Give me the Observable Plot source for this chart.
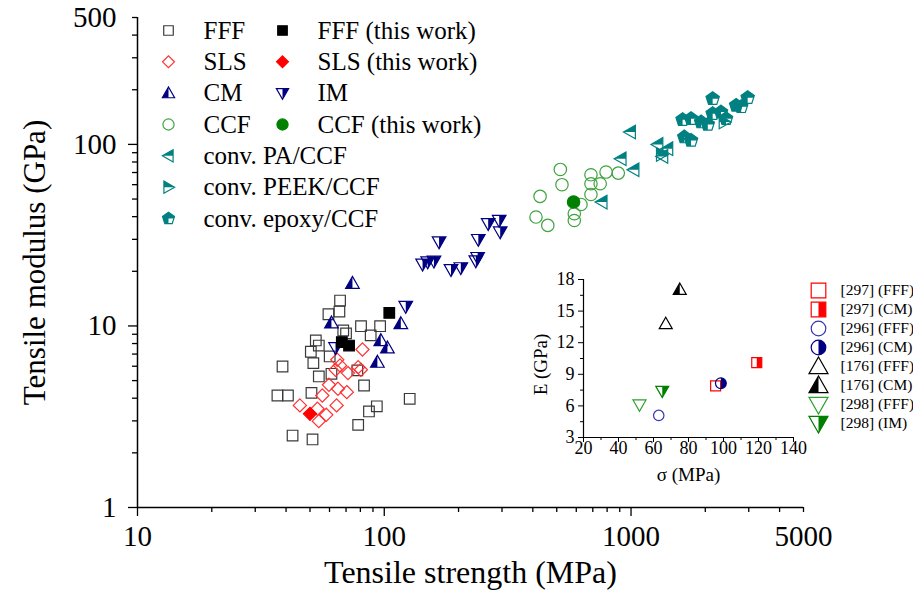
<!DOCTYPE html>
<html><head><meta charset="utf-8">
<script src="https://cdn.jsdelivr.net/npm/d3@7"></script>
<script src="https://cdn.jsdelivr.net/npm/@observablehq/plot@0.6"></script>
<style>
html,body{margin:0;padding:0;background:#fff;}
#wrap{position:relative;width:913px;height:606px;overflow:hidden;font-family:"Liberation Serif","Times New Roman",serif;}
#wrap svg{position:absolute;overflow:visible;background:transparent !important;max-width:none !important;font-family:"Liberation Serif","Times New Roman",serif !important;}
#wrap svg text{font-family:"Liberation Serif","Times New Roman",serif !important;}
</style></head><body><div id="wrap"></div>
<script>
// ---------- DATA (tensile strength MPa, tensile modulus GPa) ----------
const fff = [[66.2,13.8],[59.4,11.6],[65.8,12.0],[68.2,9.44],[70,9.1],[80.5,9.97],[96.2,9.97],[88.1,8.87],[52.8,8.32],[54.3,7.8],[50.4,7.21],[51.6,6.24],[60.1,6.79],[38.7,5.98],[54.3,5.27],[61.1,5.45],[77.8,5.69],[82.8,4.70],[36.9,4.14],[40.7,4.14],[50.7,4.28],[126.8,3.97],[93.3,3.61],[86.7,3.38],[78.4,2.85],[42.5,2.49],[51.2,2.37]];
const fffThisWork = [[104.8,11.8],[67.3,8.15],[72.0,7.8]];
const sls = [[81.6,7.42],[64.5,6.51],[66.2,6.06],[63.5,5.74],[71.3,5.50],[78.4,5.93],[80.4,5.74],[59.7,4.74],[64.9,4.51],[70.5,4.32],[56.1,4.14],[45.5,3.65],[53.6,3.50],[64.1,3.65],[58.2,3.24],[54.3,2.99]];
const slsThisWork = [[50.0,3.28]];
const cm = [[74.3,17.2],[61.1,10.4],[116.7,10.3],[96.8,8.32],[103,7.58],[93.8,6.32]];
const im = [[122.2,12.8],[63.5,7.58],[143,21.9],[150,22.5],[159,22.7],[166.8,29.0],[186.4,20.4],[204.3,20.9],[235,22.8],[239,23.8],[240.5,29.9],[263.8,36.6],[292.2,38.1],[295,32.9]];
const ccf = [[428,51.7],[412,39.8],[460,35.8],[517,72.8],[525,60],[688,68],[688,60.7],[750,60.7],[792,70.4],[888,69.5],[688,53],[627,46.7],[589,41.5],[589,38.1]];
const ccfThisWork = [[585,48.2]];
const convPA = [[993,117],[910,83.4],[1026,72.5],[762,48.1],[1283,100],[1407,94.7],[1343,85.9]];
const convPEEK = [[2388,133],[1330,88]];
const convEpoxy = [[2142,178.6],[2970,180.8],[2667,164],[2795,161],[1618,136.8],[1751,138.6],[1923,132.7],[2047,128.9],[2142,147.6],[2316,150.6],[1644,109.7],[1751,105.2],[2427,138.6]];

const xMajorTicks = [10,100,1000];
const xMinorTicks = [20,30,40,50,60,70,80,90,200,300,400,500,600,700,800,900,2000,3000,4000,5000];
const xTickLabels = [10,100,1000,5000];
const yMajorTicks = [1,10,100];
const yMinorTicks = [2,3,4,5,6,7,8,9,20,30,40,50,60,70,80,90,200,300,400,500];
const yTickLabels = [1,10,100,500];
const xTitle = "Tensile strength (MPa)";
const yTitle = "Tensile modulus (GPa)";

const legendLabels = [["FFF","FFF (this work)"],["SLS","SLS (this work)"],["CM","IM"],["CCF","CCF (this work)"],["conv. PA/CCF"],["conv. PEEK/CCF"],["conv. epoxy/CCF"]];
const legendKeys = [["FFF","FFFw"],["SLS","SLSw"],["CM","IM"],["CCF","CCFw"],["PA"],["PEEK"],["EPOXY"]];

// inset
const insetRefs = ["[297] (FFF)","[297] (CM)","[296] (FFF)","[296] (CM)","[176] (FFF)","[176] (CM)","[298] (FFF)","[298] (IM)"];
const insetStrength = [95.5,119,63,98.5,67,75,52,65];
const insetModulus = [7.9,10.1,5.1,8.15,13.8,17.05,6.1,7.4];
const insetXTicks = [20,40,60,80,100,120,140];
const insetXMinor = [30,50,70,90,110,130];
const insetYTicks = [3,6,9,12,15,18];
const insetYMinor = [4.5,7.5,10.5,13.5,16.5];
const insetXTitle = "σ (MPa)";
const insetYTitle = "E (GPa)";

// ---------- SYMBOLS ----------
function shape(fn){return {draw(ctx,size){const r=Math.sqrt(size/Math.PI);const p=fn(r);ctx.moveTo(p[0][0],p[0][1]);for(let i=1;i<p.length;i++)ctx.lineTo(p[i][0],p[i][1]);ctx.closePath();}};}
const SY = {
  square: shape(r=>[[-r,-r],[r,-r],[r,r],[-r,r]]),
  squareR: shape(r=>[[0,-r],[r,-r],[r,r],[0,r]]),
  diamond: shape(r=>[[0,-r],[r,0],[0,r],[-r,0]]),
  triUp: shape(r=>[[0,-r],[r,0.75*r],[-r,0.75*r]]),
  triUpL: shape(r=>[[0,-r],[0,0.75*r],[-r,0.75*r]]),
  triDown: shape(r=>[[-r,-0.75*r],[r,-0.75*r],[0,r]]),
  triDownR: shape(r=>[[0,-0.75*r],[r,-0.75*r],[0,r]]),
  triLeft: shape(r=>[[-r,0],[0.75*r,-r],[0.75*r,r]]),
  triLeftT: shape(r=>[[-r,0],[0.75*r,-r],[0.75*r,0]]),
  triRight: shape(r=>[[r,0],[-0.75*r,-r],[-0.75*r,r]]),
  triRightT: shape(r=>[[r,0],[-0.75*r,-r],[-0.75*r,0]]),
  pent: shape(r=>[0,1,2,3,4].map(k=>[r*Math.cos(-Math.PI/2+k*2*Math.PI/5), r*Math.sin(-Math.PI/2+k*2*Math.PI/5)])),
  pentP: shape(r=>[[0,-r],[0.951*r,-0.309*r],[0.851*r,0],[0,0],[0,0.809*r],[-0.588*r,0.809*r],[-0.951*r,-0.309*r]]),
  circle: {draw(ctx,size){const r=Math.sqrt(size/Math.PI);ctx.moveTo(r,0);ctx.arc(0,0,r,0,2*Math.PI);ctx.closePath();}},
  circleR: {draw(ctx,size){const r=Math.sqrt(size/Math.PI);ctx.moveTo(0,-r);ctx.arc(0,0,r,-Math.PI/2,Math.PI/2);ctx.closePath();}}
};
const look = {
  FFF:{outline:"square",color:"#3a3a3a",r:5.3},
  FFFw:{outline:"square",fillShape:"square",color:"#000",r:5.3},
  SLS:{outline:"diamond",color:"#ff3030",r:6.6},
  SLSw:{outline:"diamond",fillShape:"diamond",color:"#ff0000",r:6.6},
  CM:{outline:"triUp",fillShape:"triUpL",color:"#000080",r:6.8},
  IM:{outline:"triDown",fillShape:"triDownR",color:"#000080",r:6.8},
  CCF:{outline:"circle",color:"#3ea33e",r:6.2},
  CCFw:{outline:"circle",fillShape:"circle",color:"#008000",r:6.2},
  PA:{outline:"triLeft",fillShape:"triLeftT",color:"#008080",r:6.8},
  PEEK:{outline:"triRight",fillShape:"triRightT",color:"#008080",r:6.8},
  EPOXY:{outline:"pent",fillShape:"pentP",color:"#008080",r:7}
};
const insetLook = [
  {outline:"square",color:"#ff0000",r:5},
  {outline:"square",fillShape:"squareR",color:"#ff0000",r:5},
  {outline:"circle",color:"#3535b0",r:5.2},
  {outline:"circle",fillShape:"circleR",color:"#000080",r:5.4},
  {outline:"triUp",color:"#000",r:6.5},
  {outline:"triUp",fillShape:"triUpL",color:"#000",r:6.5},
  {outline:"triDown",color:"#2ca02c",r:6.5},
  {outline:"triDown",fillShape:"triDownR",color:"#008000",r:6.5}
];
function drawLook(data, L, opts, r){
  const out=[];
  if(L.fillShape) out.push(Plot.dot(data,{...opts,symbol:SY[L.fillShape],r,fill:L.color,stroke:"none"}));
  out.push(Plot.dot(data,{...opts,symbol:SY[L.outline],r,fill:"none",stroke:L.color,strokeWidth:1.2}));
  return out;
}
const FONT = "'Liberation Serif', 'Times New Roman', serif";
const XY = {x:d=>d[0], y:d=>d[1]};
const series = [[fff,"FFF"],[sls,"SLS"],[cm,"CM"],[im,"IM"],[ccf,"CCF"],[convPA,"PA"],[convPEEK,"PEEK"],[convEpoxy,"EPOXY"],[fffThisWork,"FFFw"],[slsThisWork,"SLSw"],[ccfThisWork,"CCFw"]];

// ---------- MAIN ----------
const main = Plot.plot({
  width:913,height:606,marginLeft:137,marginRight:110,marginTop:17,marginBottom:99,
  style:{fontFamily:FONT,color:"#000",background:"transparent",overflow:"visible"},
  x:{type:"log",domain:[10,5000],label:null},
  y:{type:"log",domain:[1,500],label:null},
  marks:[
    Plot.axisX(xMinorTicks,{tickSize:5,fill:"none",strokeWidth:1.3,label:null}),
    Plot.axisX(xMajorTicks,{tickSize:9,fill:"none",strokeWidth:1.3,label:null}),
    Plot.axisY(yMinorTicks,{tickSize:5,fill:"none",strokeWidth:1.3,label:null}),
    Plot.axisY(yMajorTicks,{tickSize:9,fill:"none",strokeWidth:1.3,label:null}),
    Plot.ruleY([1],{strokeWidth:1.5}),
    Plot.ruleX([10],{strokeWidth:1.5}),
    Plot.text(xTickLabels,{x:d=>d,frameAnchor:"bottom",dy:38,text:d=>String(d),fontSize:29,fontFamily:FONT,fill:"#000"}),
    Plot.text(yTickLabels,{y:d=>d,frameAnchor:"left",dx:-21,textAnchor:"end",text:d=>String(d),fontSize:29,fontFamily:FONT,fill:"#000"}),
    Plot.text([xTitle],{frameAnchor:"bottom",dy:75,textAnchor:"middle",fontSize:32,fontFamily:FONT,fill:"#000"}),
    Plot.text([yTitle],{frameAnchor:"left",dx:-102,textAnchor:"middle",rotate:-90,fontSize:31,fontFamily:FONT,fill:"#000"}),
    ...series.flatMap(([d,k])=>drawLook(d,look[k],XY,look[k].r))
  ]
});
main.style.left="0px";main.style.top="0px";
document.getElementById("wrap").appendChild(main);

// ---------- LEGEND ----------
const entries = legendLabels.flatMap((row,i)=>row.map((label,j)=>({row:i,col:j,label,key:legendKeys[i][j]})));
const legend = Plot.plot({
  width:360,height:235,margin:0,
  style:{fontFamily:FONT,background:"transparent",overflow:"visible"},
  x:{domain:[0,1],range:[18,132],axis:null},
  y:{domain:[0,6],range:[30,218],axis:null},
  marks:[
    ...entries.flatMap(e=>drawLook([e],look[e.key],{x:"col",y:"row"},look[e.key].r*0.9)),
    Plot.text(entries,{x:"col",y:"row",text:"label",dx:35,textAnchor:"start",fontSize:25,fontFamily:FONT,fill:"#000"})
  ]
});
legend.style.left="150px";legend.style.top="0px";
document.getElementById("wrap").appendChild(legend);

// ---------- INSET ----------
const idx = insetRefs.map((_,i)=>i);
const inset = Plot.plot({
  width:300,height:240,marginLeft:63,marginRight:27,marginTop:19,marginBottom:63,
  style:{fontFamily:FONT,background:"transparent",overflow:"visible"},
  x:{domain:[20,140],label:null},
  y:{domain:[3,18],label:null},
  marks:[
    Plot.axisX(insetXTicks,{tickSize:5,fill:"none",label:null}),
    Plot.axisX(insetXMinor,{tickSize:3,fill:"none",label:null}),
    Plot.axisY(insetYTicks,{tickSize:5,fill:"none",label:null}),
    Plot.axisY(insetYMinor,{tickSize:3,fill:"none",label:null}),
    Plot.ruleY([3],{strokeWidth:1.2}),
    Plot.ruleX([20],{strokeWidth:1.2}),
    Plot.text(insetXTicks,{x:d=>d,frameAnchor:"bottom",dy:16,text:d=>String(d),fontSize:18,fontFamily:FONT,fill:"#000"}),
    Plot.text(insetYTicks,{y:d=>d,frameAnchor:"left",dx:-9,textAnchor:"end",text:d=>String(d),fontSize:18,fontFamily:FONT,fill:"#000"}),
    Plot.text([insetXTitle],{frameAnchor:"bottom",dy:43,textAnchor:"middle",fontSize:19,fontFamily:FONT,fill:"#000"}),
    Plot.text([insetYTitle],{frameAnchor:"left",dx:-43,dy:6,textAnchor:"middle",rotate:-90,fontSize:19,fontFamily:FONT,fill:"#000"}),
    ...idx.flatMap(i=>drawLook([i],insetLook[i],{x:i=>insetStrength[i],y:i=>insetModulus[i]},insetLook[i].r))
  ]
});
inset.style.left="520px";inset.style.top="260px";
document.getElementById("wrap").appendChild(inset);

// ---------- INSET LEGEND ----------
const insetLegend = Plot.plot({
  width:108,height:160,margin:0,
  style:{fontFamily:FONT,background:"transparent",overflow:"visible"},
  x:{domain:[0,1],range:[13,100],axis:null},
  y:{domain:[0,7],range:[12,145],axis:null},
  marks:[
    ...idx.flatMap(i=>drawLook([i],insetLook[i],{x:()=>0,y:i=>i},insetLook[i].outline.startsWith("tri")?9.5:7.3)),
    Plot.text(idx,{x:()=>0,y:i=>i,text:i=>insetRefs[i],dx:22,textAnchor:"start",fontSize:15.5,fontFamily:FONT,fill:"#000"})
  ]
});
insetLegend.style.left="805px";insetLegend.style.top="278px";
document.getElementById("wrap").appendChild(insetLegend);
</script></body></html>
